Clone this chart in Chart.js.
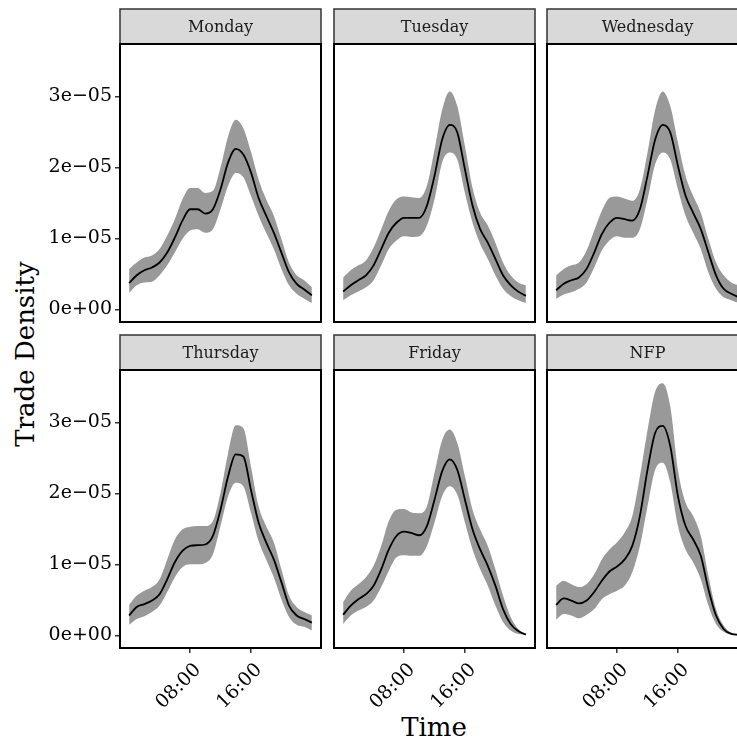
<!DOCTYPE html>
<html>
<head>
<meta charset="utf-8">
<title>Trade Density by day</title>
<script src="https://cdn.jsdelivr.net/npm/chart.js@4.4.1/dist/chart.umd.min.js"></script>
<style>
    html, body { margin: 0; padding: 0; background: #fff; overflow: hidden; }
    #figure { position: relative; width: 737px; height: 742px; overflow: hidden; background: #fff; }
    #figure canvas { position: absolute; }
    .axis-title {
        position: absolute;
        font-family: 'DejaVu Serif', serif;
        font-size: 26px;
        line-height: 26px;
        color: #000;
        white-space: nowrap;
    }
    #yTitle { left: 25px; top: 354px; transform: translate(-50%, -50%) rotate(-90deg); }
    #xTitle { left: 434px; top: 714px; transform: translateX(-50%); }
</style>
</head>
<body>
<div id="figure">
    <div class="axis-title" id="yTitle">Trade Density</div>
    <div class="axis-title" id="xTitle">Time</div>
</div>
<script>
// hour of day for every estimate
const hours = [0, 1, 2, 3, 4, 5, 6, 7, 8, 9, 10, 11, 12, 13, 14, 15, 16, 17, 18, 19, 20, 21, 22, 23, 24];

const days = ['Monday', 'Tuesday', 'Wednesday', 'Thursday', 'Friday', 'NFP'];

// densities below are in units of 1e-05
const mondayMean  = [0.37, 0.48, 0.55, 0.59, 0.66, 0.80, 1.01, 1.25, 1.41, 1.41, 1.35, 1.41, 1.69, 2.07, 2.26, 2.18, 1.93, 1.57, 1.32, 1.08, 0.80, 0.52, 0.36, 0.28, 0.20];
const mondayUpper = [0.57, 0.66, 0.73, 0.76, 0.85, 1.04, 1.27, 1.55, 1.71, 1.71, 1.64, 1.67, 2.00, 2.44, 2.67, 2.55, 2.22, 1.83, 1.55, 1.32, 0.99, 0.66, 0.48, 0.41, 0.31];
const mondayLower = [0.23, 0.34, 0.38, 0.39, 0.48, 0.62, 0.80, 0.99, 1.11, 1.13, 1.08, 1.13, 1.41, 1.74, 1.92, 1.86, 1.60, 1.32, 1.08, 0.85, 0.57, 0.34, 0.22, 0.15, 0.09];

const tuesdayMean  = [0.25, 0.34, 0.41, 0.48, 0.62, 0.85, 1.08, 1.22, 1.29, 1.29, 1.29, 1.46, 1.88, 2.39, 2.60, 2.49, 1.97, 1.46, 1.13, 0.94, 0.71, 0.48, 0.34, 0.25, 0.19];
const tuesdayUpper = [0.45, 0.55, 0.62, 0.69, 0.87, 1.13, 1.39, 1.55, 1.59, 1.58, 1.57, 1.74, 2.25, 2.81, 3.07, 2.86, 2.30, 1.71, 1.36, 1.18, 0.94, 0.66, 0.48, 0.38, 0.34];
const tuesdayLower = [0.13, 0.20, 0.25, 0.31, 0.41, 0.62, 0.85, 0.97, 1.03, 1.02, 1.03, 1.18, 1.55, 2.07, 2.21, 2.11, 1.64, 1.22, 0.92, 0.71, 0.48, 0.29, 0.19, 0.13, 0.09];

const wednesdayMean  = [0.27, 0.36, 0.41, 0.45, 0.57, 0.80, 1.06, 1.22, 1.29, 1.27, 1.25, 1.41, 1.88, 2.39, 2.60, 2.49, 2.02, 1.60, 1.36, 1.13, 0.80, 0.48, 0.29, 0.22, 0.17];
const wednesdayUpper = [0.48, 0.57, 0.62, 0.66, 0.83, 1.11, 1.39, 1.57, 1.59, 1.56, 1.53, 1.69, 2.21, 2.81, 3.07, 2.86, 2.35, 1.88, 1.60, 1.36, 0.99, 0.66, 0.48, 0.38, 0.34];
const wednesdayLower = [0.15, 0.21, 0.24, 0.29, 0.38, 0.59, 0.83, 0.97, 1.03, 1.01, 1.01, 1.13, 1.55, 2.04, 2.21, 2.11, 1.69, 1.32, 1.08, 0.85, 0.52, 0.29, 0.17, 0.13, 0.09];

const thursdayMean  = [0.28, 0.40, 0.44, 0.49, 0.58, 0.79, 1.03, 1.19, 1.26, 1.27, 1.28, 1.40, 1.77, 2.24, 2.55, 2.52, 2.05, 1.59, 1.31, 1.07, 0.75, 0.42, 0.28, 0.23, 0.18];
const thursdayUpper = [0.43, 0.56, 0.63, 0.68, 0.79, 1.07, 1.35, 1.49, 1.53, 1.54, 1.54, 1.61, 2.01, 2.57, 2.96, 2.92, 2.38, 1.82, 1.54, 1.31, 0.93, 0.56, 0.40, 0.33, 0.28];
const thursdayLower = [0.15, 0.23, 0.27, 0.33, 0.42, 0.61, 0.82, 0.96, 1.00, 1.00, 1.02, 1.14, 1.54, 1.96, 2.15, 2.10, 1.73, 1.33, 1.07, 0.82, 0.51, 0.26, 0.15, 0.12, 0.07];

const fridayMean  = [0.29, 0.42, 0.51, 0.58, 0.70, 0.93, 1.21, 1.40, 1.46, 1.44, 1.41, 1.54, 1.91, 2.31, 2.48, 2.33, 1.91, 1.49, 1.21, 0.98, 0.70, 0.37, 0.16, 0.06, 0.01];
const fridayUpper = [0.47, 0.63, 0.72, 0.82, 0.98, 1.26, 1.61, 1.77, 1.78, 1.73, 1.72, 1.82, 2.29, 2.75, 2.90, 2.71, 2.24, 1.77, 1.49, 1.26, 0.93, 0.56, 0.26, 0.09, 0.02];
const fridayLower = [0.16, 0.28, 0.35, 0.40, 0.49, 0.68, 0.91, 1.10, 1.13, 1.12, 1.12, 1.26, 1.59, 1.96, 2.10, 1.98, 1.59, 1.21, 0.93, 0.70, 0.42, 0.19, 0.07, 0.02, 0.01];

const nfpMean  = [0.43, 0.52, 0.49, 0.45, 0.49, 0.61, 0.77, 0.90, 0.97, 1.07, 1.26, 1.68, 2.33, 2.85, 2.95, 2.66, 1.96, 1.54, 1.35, 1.12, 0.65, 0.28, 0.09, 0.02, 0.01];
const nfpUpper = [0.70, 0.77, 0.72, 0.68, 0.72, 0.86, 1.07, 1.21, 1.31, 1.45, 1.68, 2.24, 2.89, 3.43, 3.55, 3.22, 2.33, 1.87, 1.68, 1.40, 0.84, 0.37, 0.14, 0.04, 0.01];
const nfpLower = [0.22, 0.30, 0.28, 0.24, 0.29, 0.37, 0.51, 0.58, 0.63, 0.70, 0.89, 1.26, 1.82, 2.33, 2.43, 2.15, 1.54, 1.21, 1.03, 0.79, 0.42, 0.16, 0.05, 0.01, 0.00];

const xTickValues = [8, 16];
const xTickLabels = ['08:00', '16:00'];
const yTickValues = [0, 1e-5, 2e-5, 3e-5];
const yTickLabels = ['0e+00', '1e\u221205', '2e\u221205', '3e\u221205'];

const series = {
    Monday: [mondayMean, mondayLower, mondayUpper],
    Tuesday: [tuesdayMean, tuesdayLower, tuesdayUpper],
    Wednesday: [wednesdayMean, wednesdayLower, wednesdayUpper],
    Thursday: [thursdayMean, thursdayLower, thursdayUpper],
    Friday: [fridayMean, fridayLower, fridayUpper],
    NFP: [nfpMean, nfpLower, nfpUpper]
};

// facet geometry
const colLeft = [120, 334, 547];
const rowTop = [44, 370];
const panelW = 201;
const panelH = 278;
const stripH = 35;
const yAxisW = 120;
const xAxisH = 80;

Chart.defaults.font.family = "'DejaVu Serif', serif";
Chart.defaults.color = '#000';

// grey strip with the facet name, and the black panel frame
const facetFrame = {
    id: 'facetFrame',
    afterDraw(chart, args, opts) {
        const ctx = chart.ctx;
        const a = chart.chartArea;
        ctx.save();
        ctx.fillStyle = '#d9d9d9';
        ctx.fillRect(a.left, a.top - stripH, a.right - a.left, stripH);
        ctx.strokeStyle = '#333';
        ctx.lineWidth = 1.5;
        ctx.strokeRect(a.left, a.top - stripH, a.right - a.left, stripH);
        ctx.fillStyle = '#1a1a1a';
        ctx.font = "16px 'DejaVu Serif'";
        ctx.textAlign = 'center';
        ctx.textBaseline = 'middle';
        ctx.fillText(opts.label, (a.left + a.right) / 2, a.top - stripH / 2 + 1);
        ctx.strokeStyle = '#000';
        ctx.lineWidth = 2;
        ctx.strokeRect(a.left, a.top, a.right - a.left, a.bottom - a.top);
        ctx.restore();
    }
};

const toPoints = (vals) => hours.map((h, i) => ({ x: h, y: vals[i] * 1e-5 }));

const figure = document.getElementById('figure');

days.forEach(function(day, i) {
    const col = i % 3;
    const row = Math.floor(i / 3);
    const showY = col === 0;
    const showX = row === 1;

    const padLeft = showY ? 0 : 2;
    const padTop = stripH + 2;
    const padBottom = showX ? 0 : 2;
    const w = (showY ? yAxisW : padLeft) + panelW + 2;
    const h = padTop + panelH + (showX ? xAxisH : padBottom);

    const canvas = document.createElement('canvas');
    canvas.width = w;
    canvas.height = h;
    canvas.style.left = (colLeft[col] - (showY ? yAxisW : padLeft)) + 'px';
    canvas.style.top = (rowTop[row] - padTop) + 'px';
    figure.appendChild(canvas);

    const [mean, lower, upper] = series[day];

    new Chart(canvas.getContext('2d'), {
        type: 'line',
        data: {
            datasets: [{
                label: day + ' lower',
                data: toPoints(lower),
                borderWidth: 0,
                pointRadius: 0,
                fill: false,
                cubicInterpolationMode: 'monotone'
            }, {
                label: day + ' upper',
                data: toPoints(upper),
                borderWidth: 0,
                pointRadius: 0,
                backgroundColor: '#999999',
                fill: '-1',
                cubicInterpolationMode: 'monotone'
            }, {
                label: day,
                data: toPoints(mean),
                borderColor: '#000',
                borderWidth: 1.8,
                pointRadius: 0,
                fill: false,
                order: -1,
                cubicInterpolationMode: 'monotone'
            }]
        },
        plugins: [facetFrame],
        options: {
            responsive: false,
            animation: false,
            devicePixelRatio: 1,
            layout: {
                padding: { left: padLeft, right: 2, top: padTop, bottom: padBottom }
            },
            plugins: {
                legend: { display: false },
                tooltip: { enabled: false },
                filler: { drawTime: 'beforeDatasetsDraw' },
                facetFrame: { label: day }
            },
            scales: {
                x: {
                    type: 'linear',
                    min: -1.2,
                    max: 25.2,
                    display: showX,
                    afterFit: function(scale) {
                        if (showX) scale.height = xAxisH;
                        scale.paddingLeft = 0;
                        scale.paddingRight = 0;
                    },
                    afterBuildTicks: function(scale) {
                        scale.ticks = xTickValues.map(v => ({ value: v }));
                    },
                    ticks: {
                        callback: (v, idx) => xTickLabels[idx],
                        minRotation: 45,
                        maxRotation: 45,
                        padding: 6,
                        labelOffset: 8,
                        font: { size: 19 },
                        color: '#000'
                    },
                    grid: { drawOnChartArea: false, tickLength: 5, color: '#333', lineWidth: 1.5 },
                    border: { display: false }
                },
                y: {
                    min: -0.178e-5,
                    max: 3.738e-5,
                    display: showY,
                    afterFit: function(scale) {
                        if (showY) scale.width = yAxisW;
                        scale.paddingTop = 0;
                        scale.paddingBottom = 0;
                    },
                    afterBuildTicks: function(scale) {
                        scale.ticks = yTickValues.map(v => ({ value: v }));
                    },
                    ticks: {
                        callback: (v, idx) => yTickLabels[idx],
                        padding: 3,
                        font: { size: 19 },
                        color: '#000'
                    },
                    grid: { drawOnChartArea: false, tickLength: 5, color: '#333', lineWidth: 1.5 },
                    border: { display: false }
                }
            }
        }
    });
});
</script>
</body>
</html>
